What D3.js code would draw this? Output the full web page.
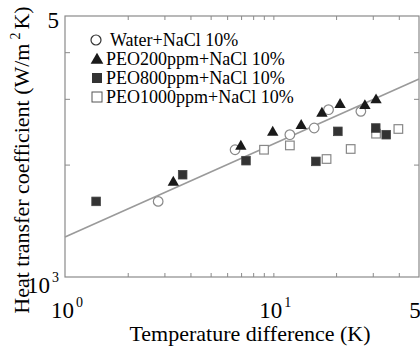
<!DOCTYPE html>
<html>
<head>
<meta charset="utf-8">
<script src="https://cdn.jsdelivr.net/npm/d3@7"></script>
<style>
  body { margin: 0; background: #fff; }
</style>
</head>
<body>
<div id="chart"></div>
<script>
// values (deltaT in K, h in W/m2K)
const waterT = [2.8, 6.55, 12.0, 15.7, 18.4, 26.3];
const waterH = [1594, 2192, 2405, 2506, 2806, 2777];

const peo200T = [3.31, 6.98, 9.93, 13.6, 17.1, 20.9, 27.5, 31.1];
const peo200H = [1803, 2251, 2455, 2558, 2760, 2912, 2893, 2996];

const peo800T = [1.41, 3.67, 7.39, 16.0, 20.4, 31.0, 34.8];
const peo800H = [1594, 1879, 2049, 2040, 2455, 2506, 2405];

const peo1000T = [9.02, 12.0, 18.0, 23.5, 31.1, 39.8];
const peo1000H = [2192, 2251, 2070, 2202, 2420, 2491];

// fitted line end points
const fitT = [1, 50];
const fitH = [1280, 3390];

const legendLabels = ['Water+NaCl 10%', 'PEO200ppm+NaCl 10%', 'PEO800ppm+NaCl 10%', 'PEO1000ppm+NaCl 10%'];

const xMinorTicks = [2, 3, 4, 5, 6, 7, 8, 9, 10, 20, 30, 40];
const yMinorTicks = [2000, 3000, 4000];
const xTickLabels = [{v: 1, base: '10', exp: '0'}, {v: 10, base: '10', exp: '1'}, {v: 50, base: '5', exp: ''}];
const yTickLabels = [{v: 1000, base: '10', exp: '3'}, {v: 5000, base: '5', exp: ''}];

const width = 420, height = 347;
const plot = {left: 65, right: 419, top: 16, bottom: 277};
const serif = '"Liberation Serif"';

const svg = d3.select('#chart').append('svg')
  .attr('width', width)
  .attr('height', height);

const x = d3.scaleLog().domain([1, 50]).range([plot.left, plot.right]);
const y = d3.scaleLog().domain([1000, 5000]).range([plot.bottom, plot.top]);

const axisColor = '#8a8a8a';

// frame
svg.append('rect')
  .attr('x', plot.left).attr('y', plot.top)
  .attr('width', plot.right - plot.left).attr('height', plot.bottom - plot.top)
  .attr('fill', 'none').attr('stroke', axisColor).attr('stroke-width', 1.2);

// inside ticks on all four sides
function styleAxis(g) {
  g.select('.domain').remove();
  g.selectAll('.tick line').attr('stroke', axisColor).attr('stroke-width', 1);
}
svg.append('g').attr('transform', 'translate(0,' + plot.bottom + ')')
  .call(d3.axisBottom(x).tickValues(xMinorTicks).tickSize(-4).tickFormat(''))
  .call(styleAxis);
svg.append('g').attr('transform', 'translate(0,' + plot.top + ')')
  .call(d3.axisTop(x).tickValues(xMinorTicks).tickSize(-4).tickFormat(''))
  .call(styleAxis);
svg.append('g').attr('transform', 'translate(' + plot.left + ',0)')
  .call(d3.axisLeft(y).tickValues(yMinorTicks).tickSize(-5).tickFormat(''))
  .call(styleAxis);
svg.append('g').attr('transform', 'translate(' + plot.right + ',0)')
  .call(d3.axisRight(y).tickValues(yMinorTicks).tickSize(-5).tickFormat(''))
  .call(styleAxis);

// tick labels with superscripts
function powerLabel(sel) {
  sel.append('tspan').text(d => d.base);
  sel.filter(d => d.exp).append('tspan')
    .attr('dy', -11).attr('dx', 2).attr('font-size', 14)
    .text(d => d.exp);
}
svg.append('g').selectAll('text')
  .data(xTickLabels).enter().append('text')
  .attr('x', d => x(d.v) + (d.exp ? 2 : -4))
  .attr('y', plot.bottom + 41)
  .attr('text-anchor', 'middle')
  .attr('font-size', 23)
  .style('font-family', serif)
  .call(powerLabel);

svg.append('g').selectAll('text')
  .data(yTickLabels).enter().append('text')
  .attr('x', 59)
  .attr('y', d => y(d.v) + (d.exp ? 16 : 12))
  .attr('text-anchor', 'end')
  .attr('font-size', 23)
  .style('font-family', serif)
  .call(powerLabel);

// axis titles
svg.append('text')
  .attr('x', 250).attr('y', 341)
  .attr('text-anchor', 'middle')
  .attr('font-size', 22)
  .style('font-family', serif)
  .text('Temperature difference (K)');

const yTitle = svg.append('text')
  .attr('transform', 'translate(29,160) rotate(-90)')
  .attr('text-anchor', 'middle')
  .attr('font-size', 22)
  .style('font-family', serif);
yTitle.append('tspan').text('Heat transfer coefficient (W/m');
yTitle.append('tspan').attr('dy', -9).attr('dx', 4).attr('font-size', 14).text('2');
yTitle.append('tspan').attr('dy', 9).attr('dx', 3).text('K)');

// fit line
const fit = fitT.map((t, i) => [t, fitH[i]]);
svg.append('path')
  .datum(fit)
  .attr('fill', 'none')
  .attr('stroke', '#9a9a9a')
  .attr('stroke-width', 1.6)
  .attr('d', d3.line().x(d => x(d[0])).y(d => y(d[1])));

// markers
const pairs = (ts, hs) => ts.map((t, i) => ({t: t, h: hs[i]}));
const tri = d3.symbol().type(d3.symbolTriangle).size(56);
const markers = svg.append('g');

markers.selectAll('.water').data(pairs(waterT, waterH)).enter().append('circle')
  .attr('class', 'water')
  .attr('cx', d => x(d.t)).attr('cy', d => y(d.h)).attr('r', 4.8)
  .attr('fill', '#fff').attr('stroke', '#888').attr('stroke-width', 1.2);

markers.selectAll('.p1000').data(pairs(peo1000T, peo1000H)).enter().append('rect')
  .attr('class', 'p1000')
  .attr('x', d => x(d.t) - 4.3).attr('y', d => y(d.h) - 4.3)
  .attr('width', 8.6).attr('height', 8.6)
  .attr('fill', '#fff').attr('stroke', '#888').attr('stroke-width', 1.2);

markers.selectAll('.p800').data(pairs(peo800T, peo800H)).enter().append('rect')
  .attr('class', 'p800')
  .attr('x', d => x(d.t) - 4.3).attr('y', d => y(d.h) - 4.3)
  .attr('width', 8.6).attr('height', 8.6)
  .attr('fill', '#333').attr('stroke', '#444').attr('stroke-width', 0.8);

markers.selectAll('.p200').data(pairs(peo200T, peo200H)).enter().append('path')
  .attr('class', 'p200')
  .attr('transform', d => 'translate(' + x(d.t) + ',' + (y(d.h) + 1) + ')')
  .attr('d', tri)
  .attr('fill', '#1a1a1a');

// legend
const legend = svg.append('g');
const rowY = i => 40 + i * 19;
legend.selectAll('text').data(legendLabels).enter().append('text')
  .attr('x', (d, i) => i === 0 ? 110 : 106)
  .attr('y', (d, i) => rowY(i) + 6)
  .attr('font-size', 18)
  .style('font-family', serif)
  .text(d => d);

legend.append('circle').attr('cx', 96).attr('cy', rowY(0)).attr('r', 5)
  .attr('fill', '#fff').attr('stroke', '#333').attr('stroke-width', 1.2);
legend.append('path').attr('transform', 'translate(97,' + (rowY(1) + 1) + ')')
  .attr('d', d3.symbol().type(d3.symbolTriangle).size(70)).attr('fill', '#1a1a1a');
legend.append('rect').attr('x', 92).attr('y', rowY(2) - 5).attr('width', 10).attr('height', 10)
  .attr('fill', '#333');
legend.append('rect').attr('x', 92).attr('y', rowY(3) - 5).attr('width', 10).attr('height', 10)
  .attr('fill', '#fff').attr('stroke', '#555').attr('stroke-width', 1);
</script>
</body>
</html>
